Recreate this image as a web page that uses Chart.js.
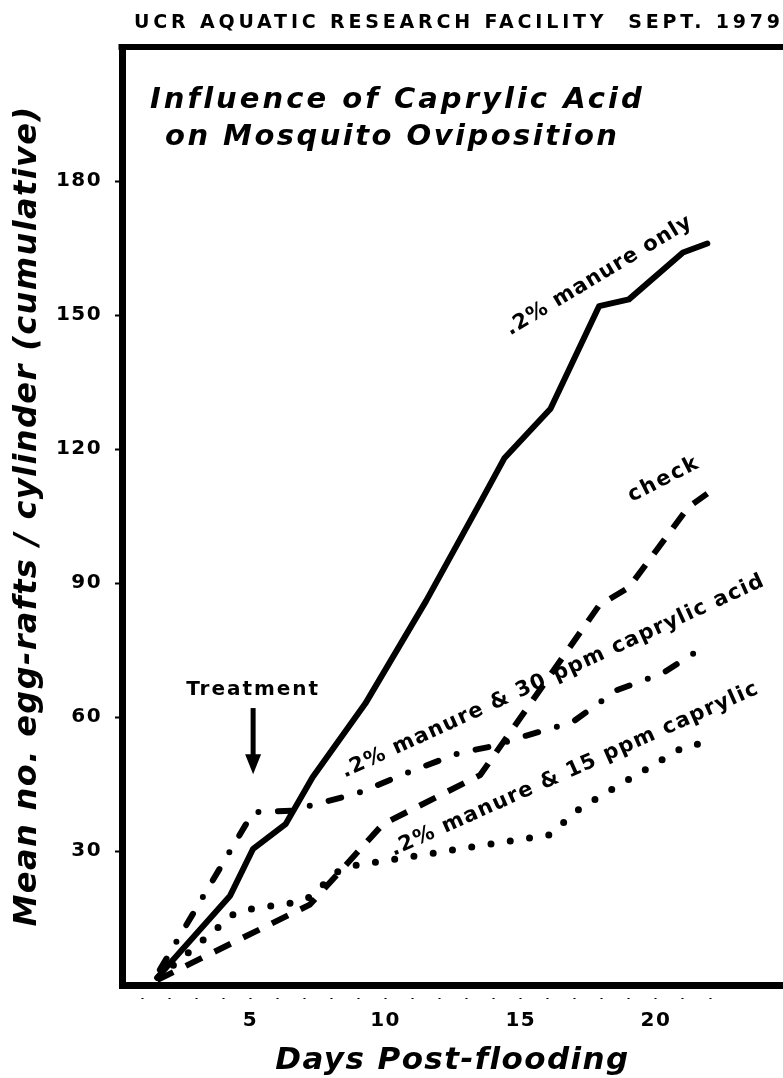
<!DOCTYPE html>
<html>
<head>
<meta charset="utf-8">
<script src="https://cdn.jsdelivr.net/npm/chart.js@4.4.1/dist/chart.umd.min.js"></script>
<style>
  html, body { margin: 0; padding: 0; background: #fff; }
  canvas { display: block; }
</style>
</head>
<body>
<canvas id="ovipositionChart" width="783" height="1078"></canvas>
<script>
// cumulative egg-rafts per cylinder (x = days post-flooding)
const manureDays = [1.55, 4.25, 5.1, 6.3, 7.3, 9.25, 11.5, 13.5, 14.4, 16.1, 17.9, 19.0, 21.0, 21.9]
const manureOnly = [1.6, 20, 30.5, 36, 46.5, 63, 86, 108, 118, 129, 152, 153.5, 164, 166]

const checkDays = [1.55, 7.2, 9.9, 13.5, 17.9, 19.0, 21.2, 21.9]
const check = [1.1, 18, 36, 47, 85, 89, 107, 110]

const acid30Days = [1.65, 5.1, 6.5, 9.0, 11.0, 12.75, 14.0, 14.9, 16.9, 18.55, 20.25, 21.8]
const acid30 = [3.4, 38.7, 39, 43, 48, 52, 53.5, 55.3, 58.8, 66, 69.8, 75.8]

const acid15Days = [1.6, 4.35, 5.0, 6.45, 7.2, 8.2, 8.9, 16.05, 17.2, 21.0, 21.7]
const acid15 = [1.6, 15.7, 17, 18.3, 19.7, 25.3, 26.8, 33.6, 39.6, 53.2, 54.1]

const dayTicks = [1, 2, 3, 4, 5, 6, 7, 8, 9, 10, 11, 12, 13, 14, 15, 16, 17, 18, 19, 20, 21, 22]
const dayLabels = [5, 10, 15, 20]
const valueTicks = [30, 60, 90, 120, 150, 180]

const FONT = '"DejaVu Sans", Verdana, sans-serif'

// hand lettering on the figure, placed in data units; width = length of the lettering in px
const curveLabels = [
  { text: '.2% manure only', day: 17.9, value: 158.8, angle: -31, width: 213 },
  { text: 'check', day: 20.3, value: 113.2, angle: -27, width: 76 },
  { text: '.2% manure & 30 ppm caprylic acid', day: 16.2, value: 69.1, angle: -24.6, width: 462 },
  { text: '.2% manure & 15 ppm caprylic', day: 17.0, value: 48.3, angle: -24, width: 400 },
]
const treatment = { day: 5.1, label: 66.2, from: 62, to: 47.2 }

const toPoints = (days, vals) => days.map((d, i) => ({ x: d, y: vals[i] }))

// draws text stretched with letter spacing to a given width (the original is spaced-out lettering)
function spacedText (ctx, str, x, y, font, width, align, angle) {
  ctx.save()
  ctx.translate(x, y)
  if (angle) ctx.rotate(angle * Math.PI / 180)
  ctx.font = font
  ctx.letterSpacing = '0px'
  const natural = ctx.measureText(str).width
  ctx.letterSpacing = Math.max(0, (width - natural) / (str.length - 1)) + 'px'
  ctx.textAlign = align || 'left'
  ctx.textBaseline = 'middle'
  ctx.fillText(str, 0, 0)
  ctx.restore()
}

const figureText = {
  id: 'figureText',
  beforeDraw (chart) {
    chart.ctx.letterSpacing = '1.4px'
  },
  afterDraw (chart) {
    const { ctx, chartArea, scales: { x, y } } = chart
    ctx.save()
    ctx.fillStyle = '#000'
    ctx.strokeStyle = '#000'

    // top edge of the frame (no right edge on the original)
    ctx.lineWidth = 6
    ctx.beginPath()
    ctx.moveTo(chartArea.left - 3.5, chartArea.top)
    ctx.lineTo(chartArea.right, chartArea.top)
    ctx.stroke()

    spacedText(ctx, 'UCR AQUATIC RESEARCH FACILITY  SEPT. 1979', 134, 23, 'bold 19px ' + FONT, 646)
    spacedText(ctx, 'Influence of Caprylic Acid', 150, 100, 'italic bold 29px ' + FONT, 492)
    spacedText(ctx, 'on Mosquito Oviposition', 165, 137, 'italic bold 29px ' + FONT, 452)

    curveLabels.forEach(l => {
      spacedText(ctx, l.text, x.getPixelForValue(l.day), y.getPixelForValue(l.value),
        'bold 21px ' + FONT, l.width, 'center', l.angle)
    })

    // treatment arrow
    const tx = x.getPixelForValue(treatment.day)
    spacedText(ctx, 'Treatment', tx, y.getPixelForValue(treatment.label), 'bold 20px ' + FONT, 132, 'center')
    const tipY = y.getPixelForValue(treatment.to)
    ctx.lineWidth = 5
    ctx.beginPath()
    ctx.moveTo(tx, y.getPixelForValue(treatment.from))
    ctx.lineTo(tx, tipY - 15)
    ctx.stroke()
    ctx.beginPath()
    ctx.moveTo(tx - 8, tipY - 20)
    ctx.lineTo(tx + 8, tipY - 20)
    ctx.lineTo(tx, tipY)
    ctx.closePath()
    ctx.fill()

    ctx.restore()
  }
}

document.addEventListener('DOMContentLoaded', function () {
  const ctx = document.getElementById('ovipositionChart')

  const line = {
    borderColor: '#000',
    borderWidth: 6,
    borderCapStyle: 'round',
    borderJoinStyle: 'round',
    pointRadius: 0,
    fill: false,
    tension: 0,
  }

  new Chart(ctx, {
    type: 'line',
    data: {
      datasets: [
        { ...line, label: '.2% manure only', data: toPoints(manureDays, manureOnly) },
        { ...line, label: 'check', data: toPoints(checkDays, check), borderDash: [18, 14], borderCapStyle: 'butt' },
        { ...line, label: '.2% manure & 30 ppm caprylic acid', data: toPoints(acid30Days, acid30), borderDash: [13, 19.5, 0, 19.5] },
        { ...line, label: '.2% manure & 15 ppm caprylic', data: toPoints(acid15Days, acid15), borderWidth: 7, borderDash: [0, 19.5] },
      ],
    },
    options: {
      responsive: false,
      animation: false,
      layout: { padding: { top: 47, right: 0, bottom: 0, left: 0 } },
      plugins: {
        legend: { display: false },
        tooltip: { enabled: false },
      },
      scales: {
        x: {
          type: 'linear',
          min: 0.25,
          max: 24.7,
          afterFit: (scale) => { scale.height = 93 },
          afterBuildTicks: (scale) => { scale.ticks = dayTicks.map(v => ({ value: v })) },
          border: { display: true, color: '#000', width: 7 },
          grid: {
            drawOnChartArea: false,
            color: '#000',
            tickColor: '#000',
            tickWidth: 2,
            tickLength: 14,
            tickBorderDash: [0, 9, 5, 0],
          },
          ticks: {
            color: '#000',
            padding: 10,
            maxRotation: 0,
            autoSkip: false,
            font: { family: FONT, size: 20, weight: 'bold' },
            callback: (v) => dayLabels.includes(v) ? String(v) : '',
          },
          title: {
            display: true,
            text: 'Days Post-flooding',
            color: '#000',
            padding: { top: 0, bottom: 2 },
            font: { family: FONT, size: 31, weight: 'bold', style: 'italic', lineHeight: 1 },
          },
        },
        y: {
          min: 0,
          max: 210,
          afterFit: (scale) => { scale.width = 122 },
          afterBuildTicks: (scale) => { scale.ticks = valueTicks.map(v => ({ value: v })) },
          border: { display: true, color: '#000', width: 7 },
          grid: {
            drawOnChartArea: false,
            color: '#000',
            tickColor: '#000',
            tickWidth: 2,
            tickLength: 12,
            tickBorderDash: [0, 5, 7, 0],
          },
          ticks: {
            color: '#000',
            padding: 8,
            font: { family: FONT, size: 20, weight: 'bold' },
          },
          title: {
            display: true,
            text: 'Mean no. egg-rafts / cylinder (cumulative)',
            color: '#000',
            padding: { top: 11.5, bottom: 0 },
            font: { family: FONT, size: 32, weight: 'bold', style: 'italic', lineHeight: 1 },
          },
        },
      },
    },
    plugins: [figureText],
  })
})
</script>
</body>
</html>
